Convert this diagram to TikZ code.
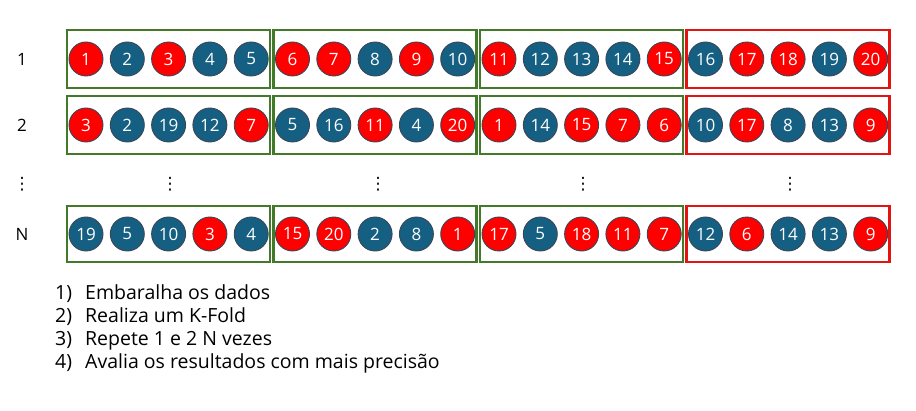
\documentclass[tikz,border=0pt]{standalone}
\usepackage{fontspec}
\setmainfont{Open Sans}
\newfontfamily\dotsfont{DejaVu Sans}
\usetikzlibrary{positioning}

\definecolor{foldgreen}{HTML}{437A2A}
\definecolor{testred}{HTML}{E3140F}
\definecolor{ballblue}{HTML}{156082}
\definecolor{ballred}{HTML}{FF0000}
\definecolor{ballrim}{HTML}{3A4656}

\tikzset{
	ball/.style={circle, minimum size=34pt, inner sep=0pt, draw=ballrim, line width=0.9pt, text=white, font=\fontsize{17}{17}\selectfont},
	ballr/.style={ball, fill=ballred},
	ballb/.style={ball, fill=ballblue},
	fold/.style={draw=foldgreen, line width=2.2pt, minimum width=203pt, inner sep=0pt},
	testfold/.style={draw=testred, line width=2.2pt, minimum width=203pt, inner sep=0pt},
	rowlabel/.style={font=\fontsize{17}{17}\selectfont},
	morerows/.style={font=\dotsfont\fontsize{17}{17}\selectfont, inner sep=0pt},
	steptext/.style={font=\fontsize{19.5}{19.5}\selectfont, anchor=base west, inner sep=0pt}
}

\begin{document}
\begin{tikzpicture}[x=1pt, y=-1pt]
	\useasboundingbox (0,0) rectangle (916,411);
	
	%%%%% ROWS %%%%%
	\foreach \r/\y/\h/\lab/\seq in {
		a/59/58/1/{1/r,2/b,3/r,4/b,5/b,6/r,7/r,8/b,9/r,10/b,11/r,12/b,13/b,14/b,15/r,16/b,17/r,18/r,19/b,20/r},
		b/125/58/2/{3/r,2/b,19/b,12/b,7/r,5/b,16/b,11/r,4/b,20/r,1/r,14/b,15/r,7/r,6/r,10/b,17/r,8/b,13/b,9/r},
		n/234/56/N/{19/b,5/b,10/b,3/r,4/b,15/r,20/r,2/b,8/b,1/r,17/r,5/b,18/r,11/r,7/r,12/b,6/r,14/b,13/b,9/r}}{
		\node[rowlabel] (lab-\r) at (22,\y) {\lab};
		% folds
		\foreach \f/\sty in {0/fold,1/fold,2/fold,3/testfold}
			\node[\sty, minimum height=\h pt] (fold-\r-\f) at ({168.5+206.5*\f},\y) {};
		% balls
		\foreach \n/\c [count=\k from 0] in \seq
			\node[ball\c] (ball-\r-\k) at ({86+41.3*\k},\y) {\n};
	}
	
	%%%%% DOTS %%%%%
	\foreach \x [count=\i] in {22,170,378,583,790}
		\node[morerows] (dots\i) at (\x,184) {⋮};
	
	%%%%% STEPS %%%%%
	\foreach \t [count=\i] in {Embaralha os dados, Realiza um K-Fold, Repete 1 e 2 N vezes, Avalia os resultados com mais precisão}
		\node[steptext] (step\i) at (55,{277+23*\i}) {\makebox[30pt][l]{\i)}\t};
	
\end{tikzpicture}
\end{document}
